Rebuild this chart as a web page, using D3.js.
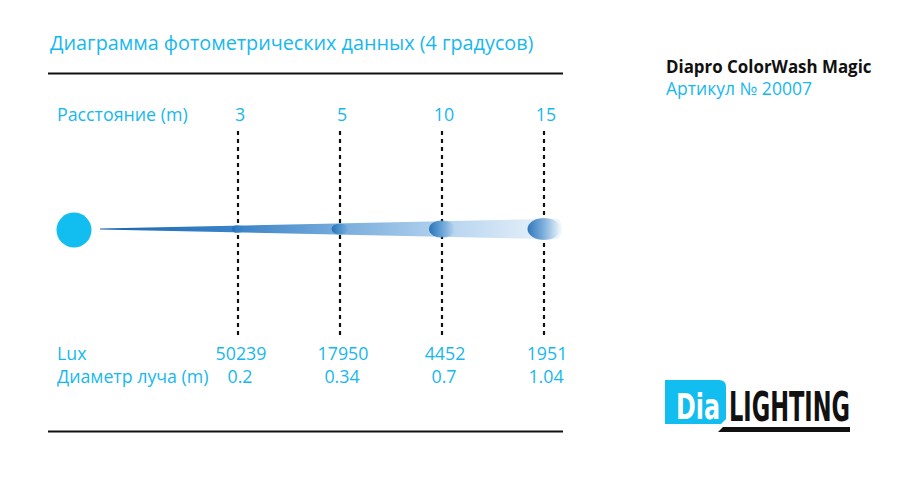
<!DOCTYPE html>
<html>
<head>
<meta charset="utf-8">
<script src="https://d3js.org/d3.v7.min.js"></script>
<style>
  body { margin: 0; background: #fff; }
  svg { display: block; }
  text { font-family: "Open Sans", "DejaVu Sans", sans-serif; }
</style>
</head>
<body>
<svg width="900" height="500"></svg>
<script>
// Данные диаграммы
let chartTitle = "Диаграмма фотометрических данных (4 градусов)";
let productName = "Diapro ColorWash Magic";
let articleText = "Артикул № 20007";
let rowLabels = ["Расстояние (m)", "Lux", "Диаметр луча (m)"];
let distances = [3, 5, 10, 15];
let luxValues = [50239, 17950, 4452, 1951];
let beamDiameters = [0.2, 0.34, 0.7, 1.04];

let cyan = "#17b8ee";
let s = d3.select("svg");

// Шкалы
let x = d3.scalePoint().domain(distances).range([238, 544]);
let spot = d3.scalePow().exponent(0.6).domain([0, d3.max(beamDiameters)]).range([0, 11]);
let cy = 229;
let tipX = 100;
let endX = 556;
let halfW = d3.scaleLinear().domain([tipX, x(distances[distances.length - 1])]).range([0.5, 10]);

// Градиенты
let defs = s.append("defs");
let beamGrad = defs.append("linearGradient")
    .attr("id", "beamGrad")
    .attr("gradientUnits", "userSpaceOnUse")
    .attr("x1", tipX).attr("x2", endX + 6)
    .attr("y1", 0).attr("y2", 0);
[[0, "#1866b2"], [0.3, "#3c84c8"], [0.53, "#7aaedd"], [0.76, "#b8d5ef"], [1, "#f0f6fc"]].forEach(d => {
    beamGrad.append("stop").attr("offset", d[0]).attr("stop-color", d[1]);
});

let spotGrad = defs.append("linearGradient")
    .attr("id", "spotGrad")
    .attr("x1", 0).attr("x2", 1).attr("y1", 0).attr("y2", 0);
spotGrad.append("stop").attr("offset", 0).attr("stop-color", "#1c6ab3").attr("stop-opacity", 0.9);
spotGrad.append("stop").attr("offset", 0.45).attr("stop-color", "#2c7dc2").attr("stop-opacity", 0.6);
spotGrad.append("stop").attr("offset", 1).attr("stop-color", "#2c7dc2").attr("stop-opacity", 0);

// Заголовок и линии
s.append("text")
    .attr("x", 50).attr("y", 50)
    .attr("fill", cyan)
    .style("font-size", "19.8px")
    .text(chartTitle);

s.append("line")
    .attr("x1", 48).attr("x2", 563)
    .attr("y1", 73.5).attr("y2", 73.5)
    .attr("stroke", "#111").attr("stroke-width", 2.2);

s.append("line")
    .attr("x1", 48).attr("x2", 563)
    .attr("y1", 431.5).attr("y2", 431.5)
    .attr("stroke", "#111").attr("stroke-width", 2.2);

// Подписи строк
let rowY = [120.5, 359.5, 383];
rowLabels.forEach((t, i) => {
    s.append("text")
        .attr("x", 57).attr("y", rowY[i])
        .attr("fill", cyan)
        .style("font-size", "17.8px")
        .text(t);
});

// Пунктирные линии
s.selectAll(".dash")
    .data(distances)
    .enter().append("line")
    .attr("class", "dash")
    .attr("x1", d => x(d)).attr("x2", d => x(d))
    .attr("y1", 131).attr("y2", 336)
    .attr("stroke", "#111")
    .attr("stroke-width", 2.2)
    .attr("stroke-dasharray", "4,4");

// Значения
s.selectAll(".dist")
    .data(distances)
    .enter().append("text")
    .attr("class", "dist")
    .attr("x", d => x(d) + 2).attr("y", rowY[0])
    .attr("text-anchor", "middle")
    .attr("fill", cyan)
    .style("font-size", "17.8px")
    .text(d => d);

s.selectAll(".lux")
    .data(luxValues)
    .enter().append("text")
    .attr("class", "lux")
    .attr("x", (d, i) => x(distances[i]) + 3).attr("y", rowY[1])
    .attr("text-anchor", "middle")
    .attr("fill", cyan)
    .style("font-size", "17.8px")
    .text(d => d);

s.selectAll(".diam")
    .data(beamDiameters)
    .enter().append("text")
    .attr("class", "diam")
    .attr("x", (d, i) => x(distances[i]) + 2).attr("y", rowY[2])
    .attr("text-anchor", "middle")
    .attr("fill", cyan)
    .style("font-size", "17.8px")
    .text(d => d);

// Источник света
s.append("circle")
    .attr("cx", 74).attr("cy", cy + 1).attr("r", 17.5)
    .attr("fill", "#12bdf0");

// Луч
let hwEnd = halfW(endX);
s.append("path")
    .attr("d", "M" + tipX + "," + (cy - halfW(tipX)) +
        " L" + endX + "," + (cy - hwEnd) +
        " A6," + hwEnd + " 0 0 1 " + endX + "," + (cy + hwEnd) +
        " L" + tipX + "," + (cy + halfW(tipX)) + " Z")
    .attr("fill", "url(#beamGrad)");

// Пятна на расстояниях
s.selectAll(".spot")
    .data(beamDiameters)
    .enter().append("ellipse")
    .attr("class", "spot")
    .attr("cx", (d, i) => x(distances[i]))
    .attr("cy", cy)
    .attr("rx", d => spot(d) * 1.5)
    .attr("ry", d => spot(d))
    .attr("fill", "url(#spotGrad)");

// Название изделия
s.append("text")
    .attr("x", 666).attr("y", 73)
    .attr("fill", "#111")
    .style("font-size", "16.9px")
    .style("font-weight", "bold")
    .text(productName);

s.append("text")
    .attr("x", 666).attr("y", 95)
    .attr("fill", cyan)
    .style("font-size", "17.5px")
    .text(articleText);

// Логотип
let logo = s.append("g");
logo.append("path")
    .attr("d", "M665,380 L719,380 Q726,380 726,387 L726,419 L721,424 L665,424 Z")
    .attr("fill", "#12bdf0");

// сжимаем текст по ширине через transform
let fitText = (txt, x0, y0, w, size, fill, family) => {
    let t = logo.append("text")
        .attr("fill", fill)
        .style("font-family", family)
        .style("font-weight", "bold")
        .style("font-size", size + "px")
        .text(txt);
    let natural = t.node().getComputedTextLength();
    t.attr("transform", "translate(" + x0 + "," + y0 + ") scale(" + (w / natural) + ",1)");
}
fitText("Dia", 676, 419, 44, 36, "#fff", "'DejaVu Sans Condensed', 'Liberation Sans Narrow', sans-serif");
fitText("LIGHTING", 729, 421, 121, 41, "#111", "'Liberation Sans Narrow', 'DejaVu Sans Condensed', sans-serif");

logo.append("path")
    .attr("d", "M723,427 L850,427 L850,432 L718,432 Z")
    .attr("fill", "#111");
</script>
</body>
</html>
